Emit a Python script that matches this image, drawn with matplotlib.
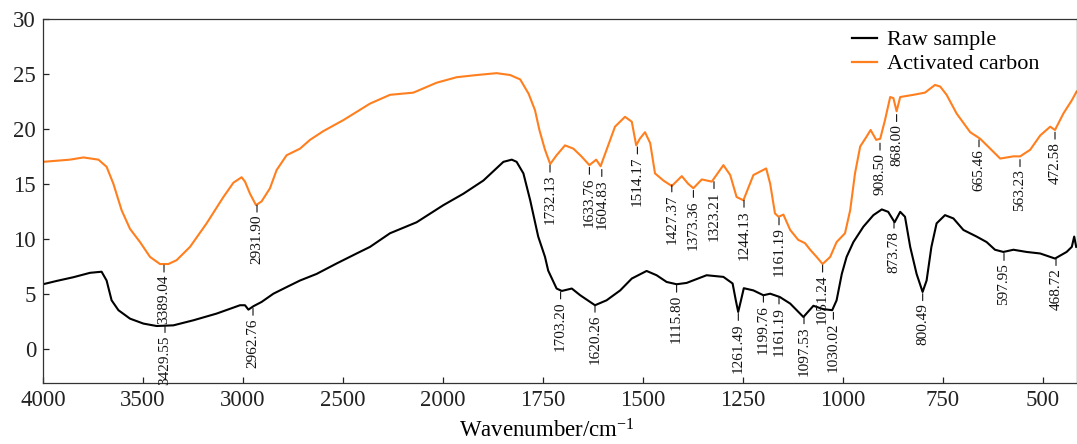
import numpy as np
import matplotlib
matplotlib.use("Agg")
import matplotlib.pyplot as plt

plt.rcParams['font.family'] = ['Liberation Serif', 'DejaVu Serif']
plt.rcParams['mathtext.fontset'] = 'custom'
plt.rcParams['mathtext.rm'] = 'Liberation Serif'
plt.rcParams['mathtext.it'] = 'Liberation Serif:italic'

# ---------------- data ----------------
orange_wn = [4000, 3865, 3798, 3723, 3682, 3648, 3607, 3565, 3515, 3465, 3415, 3373, 3332, 3265,
             3182, 3098, 3048, 3007, 2990, 2965, 2935, 2907, 2865, 2832, 2782, 2715, 2665, 2598,
             2498, 2365, 2265, 2148, 2032, 1966, 1916, 1866, 1832, 1807, 1786, 1770, 1759, 1745,
             1732, 1716, 1695, 1674, 1654, 1634, 1617, 1606, 1591, 1570, 1545, 1528, 1517, 1508,
             1495, 1482, 1470, 1449, 1428, 1403, 1387, 1374, 1353, 1328, 1299, 1282, 1266, 1249,
             1224, 1192, 1182, 1170, 1161, 1149, 1132, 1112, 1095, 1082, 1066, 1051, 1032, 1016,
             995, 982, 970, 957, 941, 931, 917, 907, 895, 882, 874, 866, 857, 824, 795, 770, 757,
             741, 716, 682, 657, 632, 607, 574, 557, 532, 507, 482, 470, 449, 428, 416]
orange_val = [17.0, 17.2, 17.4, 17.2, 16.55, 15.0, 12.6, 10.9, 9.7, 8.35, 7.7, 7.7, 8.05, 9.26,
              11.4, 13.8, 15.1, 15.6, 15.2, 14.1, 13.06, 13.4, 14.6, 16.25, 17.6, 18.2, 19.0, 19.8,
              20.8, 22.3, 23.1, 23.3, 24.2, 24.7, 24.9, 25.07, 24.9, 24.5, 23.2, 21.7, 19.9, 18.1,
              16.8, 17.6, 18.5, 18.2, 17.5, 16.7, 17.2, 16.6, 18.1, 20.2, 21.1, 20.65, 18.5, 19.1,
              19.7, 18.7, 15.95, 15.3, 14.8, 15.7, 15.0, 14.6, 15.4, 15.2, 16.7, 15.8, 13.8, 13.5,
              15.8, 16.4, 15.0, 12.3, 12.0, 12.2, 10.8, 9.9, 9.6, 9.0, 8.35, 7.7, 8.35, 9.7,
              10.5, 12.6, 15.95, 18.4, 19.3, 19.9, 19.0, 19.1, 20.8, 22.9, 22.8, 21.6, 22.9, 23.1,
              23.3, 24.0, 23.85, 23.1, 21.4, 19.7, 19.1, 18.2, 17.3, 17.5, 17.5, 18.1, 19.4, 20.2,
              19.9, 21.4, 22.6, 23.4]

black_wn = [4000, 3932, 3848, 3765, 3707, 3682, 3657, 3623, 3565, 3498, 3432, 3348, 3248, 3132,
            3015, 2990, 2973, 2948, 2907, 2848, 2782, 2715, 2632, 2532, 2432, 2365, 2265, 2132,
            1999, 1949, 1899, 1849, 1828, 1816, 1799, 1782, 1762, 1745, 1737, 1716, 1703, 1678,
            1657, 1620, 1591, 1557, 1528, 1491, 1466, 1441, 1416, 1391, 1341, 1299, 1276, 1268,
            1262, 1255, 1248, 1224, 1199, 1182, 1158, 1132, 1099, 1074, 1050, 1027, 1016, 1003,
            991, 974, 949, 924, 903, 887, 871, 857, 845, 832, 816, 801, 791, 779, 766, 745, 724,
            699, 666, 641, 620, 599, 574, 541, 507, 470, 441, 428, 422, 417]
black_val = [5.86, 6.16, 6.5, 6.9, 7.0, 6.2, 4.4, 3.5, 2.73, 2.28, 2.06, 2.12, 2.58, 3.19,
             3.95, 3.95, 3.55, 3.86, 4.25, 5.0, 5.6, 6.2, 6.8, 7.75, 8.66, 9.26, 10.5, 11.5,
             13.06, 14.1, 15.3, 17.0, 17.2, 17.0, 15.95, 13.5, 10.2, 8.35, 7.1, 5.47, 5.25, 5.47,
             4.86, 3.95, 4.4, 5.3, 6.38, 7.07, 6.68, 6.07, 5.86, 5.98, 6.68, 6.53, 5.93, 4.4,
             3.34, 4.4, 5.5, 5.3, 4.86, 5.0, 4.7, 4.1, 2.88, 3.9, 3.6, 3.5, 4.4, 6.8,
             8.35, 9.7, 11.1, 12.15, 12.67, 12.45, 11.5, 12.45, 12.0, 9.26, 6.8, 5.16, 6.2, 9.26,
             11.4, 12.15, 11.85, 10.8, 10.2, 9.7, 9.0, 8.8, 9.0, 8.8, 8.66, 8.2, 8.8, 9.26, 10.2, 9.26]

orange_peak_labels = ['3389.04', '2931.90', '1732.13', '1633.76', '1604.83', '1514.17', '1427.37',
                      '1373.36', '1323.21', '1244.13', '1161.19', '1051.24', '908.50', '868.00',
                      '665.46', '563.23', '472.58']
orange_peak_wn = [3395, 2930, 1732.5, 1634, 1603, 1514, 1428, 1374, 1322.5, 1247.5, 1160, 1051,
                  907.5, 866, 660, 557.5, 470]
orange_peak_val = [7.6, 13.06, 16.7, 16.5, 16.3, 18.35, 14.9, 14.4, 15.2, 13.5, 11.9, 7.6,
                   18.7, 21.3, 19.0, 17.2, 19.7]

black_peak_labels = ['3429.55', '2962.76', '1703.20', '1620.26', '1115.80', '1261.49', '1199.76',
                     '1161.19', '1097.53', '1030.02', '873.78', '800.49', '597.95', '468.72']
black_peak_wn = [3390, 2950, 1706, 1620, 1416, 1261.7, 1199, 1160, 1097.5, 1024, 872.5, 800.8,
                 597.5, 467.5]
black_peak_val = [2.1, 3.67, 5.16, 3.95, 5.77, 3.2, 4.86, 4.7, 2.9, 3.3, 11.6, 5.0, 8.66, 8.2]

x_ticks = [4000, 3500, 3000, 2500, 2000, 1750, 1500, 1250, 1000, 750, 500]
y_ticks = [0, 5, 10, 15, 20, 25, 30]

ORANGE = '#FF7F1E'

# ---------------- scale: x-axis compressed above 2000 cm-1 ----------------
def fwd(x):
    x = np.asarray(x, dtype=float)
    return np.where(x >= 2000, x, 2 * x - 2000)

def inv(y):
    y = np.asarray(y, dtype=float)
    return np.where(y >= 2000, y, (y + 2000) / 2)

fig = plt.figure(figsize=(10.77, 4.44), dpi=100)
ax = fig.add_axes([43 / 1077, 1 - 382.7 / 444, 1 - 43 / 1077, (382.7 - 19) / 444])
ax.set_xscale('function', functions=(fwd, inv))

ax.plot(black_wn, black_val, color='black', lw=1.5, label='Raw sample')
ax.plot(orange_wn, orange_val, color=ORANGE, lw=1.5, label='Activated carbon')

ax.set_xlim(4000, 415)
ax.set_ylim(-3.1, 30)
ax.set_xticks(x_ticks)
ax.set_xticklabels([str(t) for t in x_ticks])
ax.set_yticks(y_ticks)
ax.minorticks_off()
ax.tick_params(direction='in', length=4.5, width=0.9, labelsize=16.5, colors='#222222',
               top=False, right=False, pad=5)
for s in ax.spines.values():
    s.set_linewidth(0.9)
    s.set_color('#333333')

def annotate_peaks(labels, wns, vals):
    for lab, w, v in zip(labels, wns, vals):
        ax.annotate(lab, xy=(w, v), xytext=(0, -7), textcoords='offset points',
                    rotation=90, ha='center', va='top', fontsize=11, color='#111111',
                    arrowprops=dict(arrowstyle='-', lw=0.8, color='#111111',
                                    shrinkA=0, shrinkB=0))

annotate_peaks(orange_peak_labels, orange_peak_wn, orange_peak_val)
annotate_peaks(black_peak_labels, black_peak_wn, black_peak_val)

ax.set_xlabel('Wavenumber/cm$^{-1}$', fontsize=16.5)
ax.xaxis.set_label_coords(0.487, -0.1)

leg = ax.legend(loc='upper left', bbox_to_anchor=(0.782, 0.97), frameon=False, fontsize=16,
                handlelength=1.15, handletextpad=0.45, labelspacing=0.15, borderpad=0,
                borderaxespad=0)
for line in leg.get_lines():
    line.set_linewidth(1.6)

fig.savefig('out.png', dpi=100)
